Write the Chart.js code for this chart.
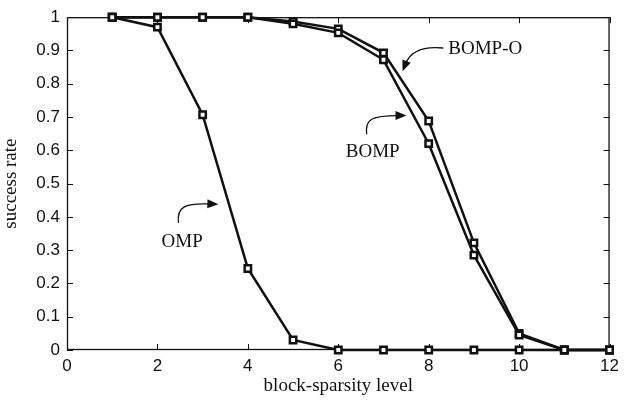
<!DOCTYPE html>
<html>
<head>
<meta charset="utf-8">
<script src="https://cdn.jsdelivr.net/npm/chart.js@4/dist/chart.umd.min.js"></script>
<style>
  html, body { margin: 0; padding: 0; background: #fff; }
  #wrap { width: 625px; height: 407px; }
</style>
</head>
<body>
<div id="wrap"><canvas id="c"></canvas></div>
<script>
const levels = [1, 2, 3, 4, 5, 6, 7, 8, 9, 10, 11, 12];
const omp = [1, 0.97, 0.707, 0.245, 0.03, 0, 0, 0, 0, 0, 0, 0];
const bomp = [1, 1, 1, 1, 0.98, 0.953, 0.872, 0.62, 0.285, 0.045, 0, 0];
const bompO = [1, 1, 1, 1, 0.987, 0.965, 0.893, 0.688, 0.322, 0.05, 0, 0];
const xTicks = [0, 2, 4, 6, 8, 10, 12];
const yTicks = [0, 0.1, 0.2, 0.3, 0.4, 0.5, 0.6, 0.7, 0.8, 0.9, 1];

const labels = [
  { text: "BOMP-O", x: 450, y: 47, arrow: [[445, 46], [425, 44], [412, 49], [407, 62]] },
  { text: "BOMP", x: 347, y: 151, arrow: [[368, 133], [366, 117], [374, 114], [400, 114]] },
  { text: "OMP", x: 162, y: 241, arrow: [[179, 222], [177, 206], [185, 202], [211, 203]] }
];

const pts = ys => levels.map((x, i) => ({ x, y: ys[i] }));

function series(label, ys) {
  return {
    label, data: pts(ys), clip: false,
    borderColor: "#111", borderWidth: 2.5,
    pointStyle: "rect", pointRadius: 4.5, pointBorderWidth: 2.5,
    pointBackgroundColor: "#fff", pointBorderColor: "#111",
    tension: 0
  };
}

// inward ticks on all four sides, plus the text labels with curved arrows
const decor = {
  id: "decor",
  beforeDatasetsDraw(chart) {
    const { ctx, chartArea: ca, scales } = chart;
    ctx.save();
    ctx.strokeStyle = "#111";
    ctx.lineWidth = 1;
    xTicks.forEach(v => {
      const x = Math.round(scales.x.getPixelForValue(v)) + 0.5;
      ctx.beginPath();
      ctx.moveTo(x, ca.bottom); ctx.lineTo(x, ca.bottom - 6);
      ctx.moveTo(x, ca.top); ctx.lineTo(x, ca.top + 6);
      ctx.stroke();
    });
    yTicks.forEach(v => {
      const y = Math.round(scales.y.getPixelForValue(v)) + 0.5;
      ctx.beginPath();
      ctx.moveTo(ca.left, y); ctx.lineTo(ca.left + 6, y);
      ctx.moveTo(ca.right, y); ctx.lineTo(ca.right - 6, y);
      ctx.stroke();
    });
    ctx.lineWidth = 1.3;
    ctx.strokeRect(ca.left + 0.5, ca.top + 0.5, ca.width - 1, ca.height - 1);
    ctx.restore();
  },
  afterDraw(chart) {
    const { ctx, chartArea: ca } = chart;
    const sx = px => ca.left + (px - 67) * ca.width / 545;
    const sy = py => ca.top + (py - 15) * ca.height / 335;
    ctx.save();
    ctx.strokeStyle = "#111";
    ctx.fillStyle = "#111";
    ctx.font = "19px 'Liberation Serif', 'Times New Roman', serif";
    ctx.textBaseline = "middle";
    ctx.textAlign = "left";
    labels.forEach(l => {
      ctx.fillText(l.text, sx(l.x), sy(l.y));
      const a = l.arrow.map(p => [sx(p[0]), sy(p[1])]);
      ctx.lineWidth = 1.3;
      ctx.beginPath();
      ctx.moveTo(a[0][0], a[0][1]);
      ctx.bezierCurveTo(a[1][0], a[1][1], a[2][0], a[2][1], a[3][0], a[3][1]);
      ctx.stroke();
      const ang = Math.atan2(a[3][1] - a[2][1], a[3][0] - a[2][0]);
      ctx.save();
      ctx.translate(a[3][0], a[3][1]);
      ctx.rotate(ang);
      ctx.beginPath();
      ctx.moveTo(8, 0); ctx.lineTo(-3, -4.5); ctx.lineTo(-3, 4.5);
      ctx.closePath();
      ctx.fill();
      ctx.restore();
    });
    ctx.restore();
  }
};

const tickFont = { family: "'Liberation Sans', Arial, sans-serif", size: 17 };
const titleFont = { family: "'Liberation Serif', 'Times New Roman', serif", size: 19 };

new Chart(document.getElementById("c"), {
  type: "line",
  data: { datasets: [series("OMP", omp), series("BOMP", bomp), series("BOMP-O", bompO)] },
  options: {
    responsive: true, maintainAspectRatio: false, animation: false,
    layout: { padding: { left: 0, right: 10, top: 10, bottom: 0 } },
    plugins: { legend: { display: false }, tooltip: { enabled: false } },
    scales: {
      x: {
        type: "linear", min: 0, max: 12,
        afterBuildTicks: s => { s.ticks = xTicks.map(v => ({ value: v })); },
        afterFit: s => { s.height = 57; },
        grid: { display: false, drawTicks: false },
        border: { display: false },
        ticks: { color: "#111", font: tickFont, padding: 6, maxRotation: 0 },
        title: { display: true, text: "block-sparsity level", color: "#111", font: titleFont, padding: { top: 0, bottom: 10 } }
      },
      y: {
        min: 0, max: 1,
        afterBuildTicks: s => { s.ticks = yTicks.map(v => ({ value: v })); },
        afterFit: s => { s.width = 67; },
        grid: { display: false, drawTicks: false },
        border: { display: false },
        ticks: { color: "#111", font: tickFont, padding: 7, callback: v => String(Number(v.toFixed(1))) },
        title: { display: true, text: "success rate", color: "#111", font: titleFont, padding: { top: 0, bottom: 2 } }
      }
    }
  },
  plugins: [decor]
});
</script>
</body>
</html>
